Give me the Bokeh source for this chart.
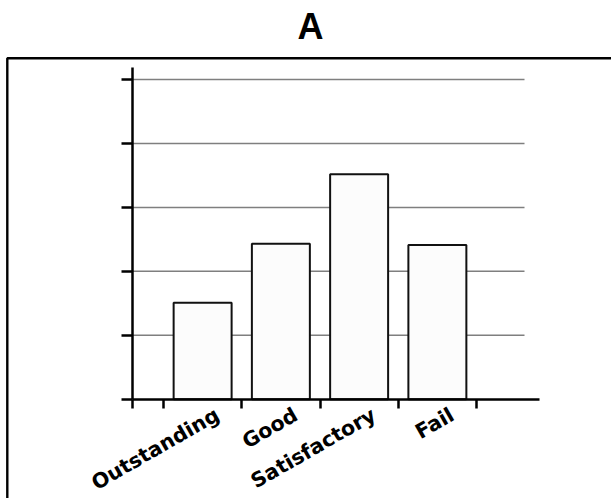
from bokeh.plotting import figure
from bokeh.models import Range1d, FixedTicker, BoxAnnotation, Label
from bokeh.embed import file_html
from bokeh.resources import INLINE

# ---- data ----
categories = ["Outstanding", "Good", "Satisfactory", "Fail"]
values = [1.51, 2.43, 3.52, 2.41]
y_ticks = [0, 1, 2, 3, 4, 5]
cat_bounds = [0, 1, 2, 3, 4]
title_text = "A"

# ---- layout (pixel geometry of the canvas) ----
W, H = 611, 498
PX_X0, PX_PER_X = 163.0, 78.25      # pixel of x=0, pixels per category
PX_Y0, PX_PER_Y = 398.7, 63.94      # pixel of y=0, pixels per unit


def dx(px):
    return (px - PX_X0) / PX_PER_X


def dy(py):
    return (PX_Y0 - py) / PX_PER_Y


AX_X = dx(132)       # where the value axis sits
AX_END = dx(539)     # end of category axis line
GRID_END = dx(524)   # end of grid lines
Y_TOP = dy(67)       # top of value axis

p = figure(width=W, height=H, output_backend="svg", toolbar_location=None,
           x_range=Range1d(dx(0), dx(W)), y_range=Range1d(dy(H), dy(0)),
           min_border=0)
p.min_border_left = p.min_border_right = p.min_border_top = p.min_border_bottom = 0
p.background_fill_color = "white"
p.border_fill_color = "white"
p.outline_line_color = None
p.xgrid.visible = False
p.ygrid.visible = False

# outer frame box (its right / bottom edges lie outside the view)
border = BoxAnnotation(left=dx(6.8), right=dx(W + 40), top=dy(57.8), bottom=dy(H + 40),
                       fill_color=None, fill_alpha=0, line_color="black",
                       line_alpha=1.0, line_width=2.4)
p.add_layout(border)

# title
p.add_layout(Label(x=dx(310), y=dy(25.5), text=title_text, text_align="center",
                   text_baseline="alphabetic", text_font="Liberation Sans",
                   text_font_size="36px", text_font_style="bold", text_color="black"))

# horizontal grid lines (stop short of the axis end)
p.segment(x0=AX_X, x1=GRID_END, y0=y_ticks[1:], y1=y_ticks[1:],
          line_color="#7f7f7f", line_width=1.5)

centers = [i + 0.5 for i in range(len(categories))]
p.vbar(x=centers, top=values, width=0.741, bottom=0,
       fill_color="#fcfcfc", line_color="#111111", line_width=2)

# x axis: tick marks at category bounds, labels slightly offset
label_pos = [c + 0.19 for c in centers]
xa = p.xaxis[0]
xa.fixed_location = 0
xa.bounds = (AX_X, AX_END)
xa.ticker = FixedTicker(ticks=label_pos, minor_ticks=[AX_X] + cat_bounds)
xa.major_label_overrides = {pos: name for pos, name in zip(label_pos, categories)}
xa.major_tick_line_color = None
xa.major_tick_out = 0
xa.major_tick_in = 0
xa.minor_tick_out = 9
xa.minor_tick_in = 0
xa.minor_tick_line_color = "black"
xa.minor_tick_line_width = 2.5
xa.axis_line_width = 2.5
xa.axis_line_color = "black"
xa.major_label_orientation = 0.52
xa.major_label_standoff = 5
xa.major_label_text_font = "DejaVu Sans"
xa.major_label_text_font_size = "20.5px"
xa.major_label_text_font_style = "bold"
xa.major_label_text_color = "black"

ya = p.yaxis[0]
ya.fixed_location = AX_X
ya.bounds = (0, Y_TOP)
ya.ticker = FixedTicker(ticks=y_ticks, minor_ticks=[])
ya.major_label_overrides = {t: "" for t in y_ticks}
ya.major_tick_out = 11
ya.major_tick_in = 0
ya.major_tick_line_width = 2.5
ya.major_tick_line_color = "black"
ya.minor_tick_line_color = None
ya.axis_line_width = 2.5
ya.axis_line_color = "black"

open("out.html", "w").write(file_html(p, INLINE))
